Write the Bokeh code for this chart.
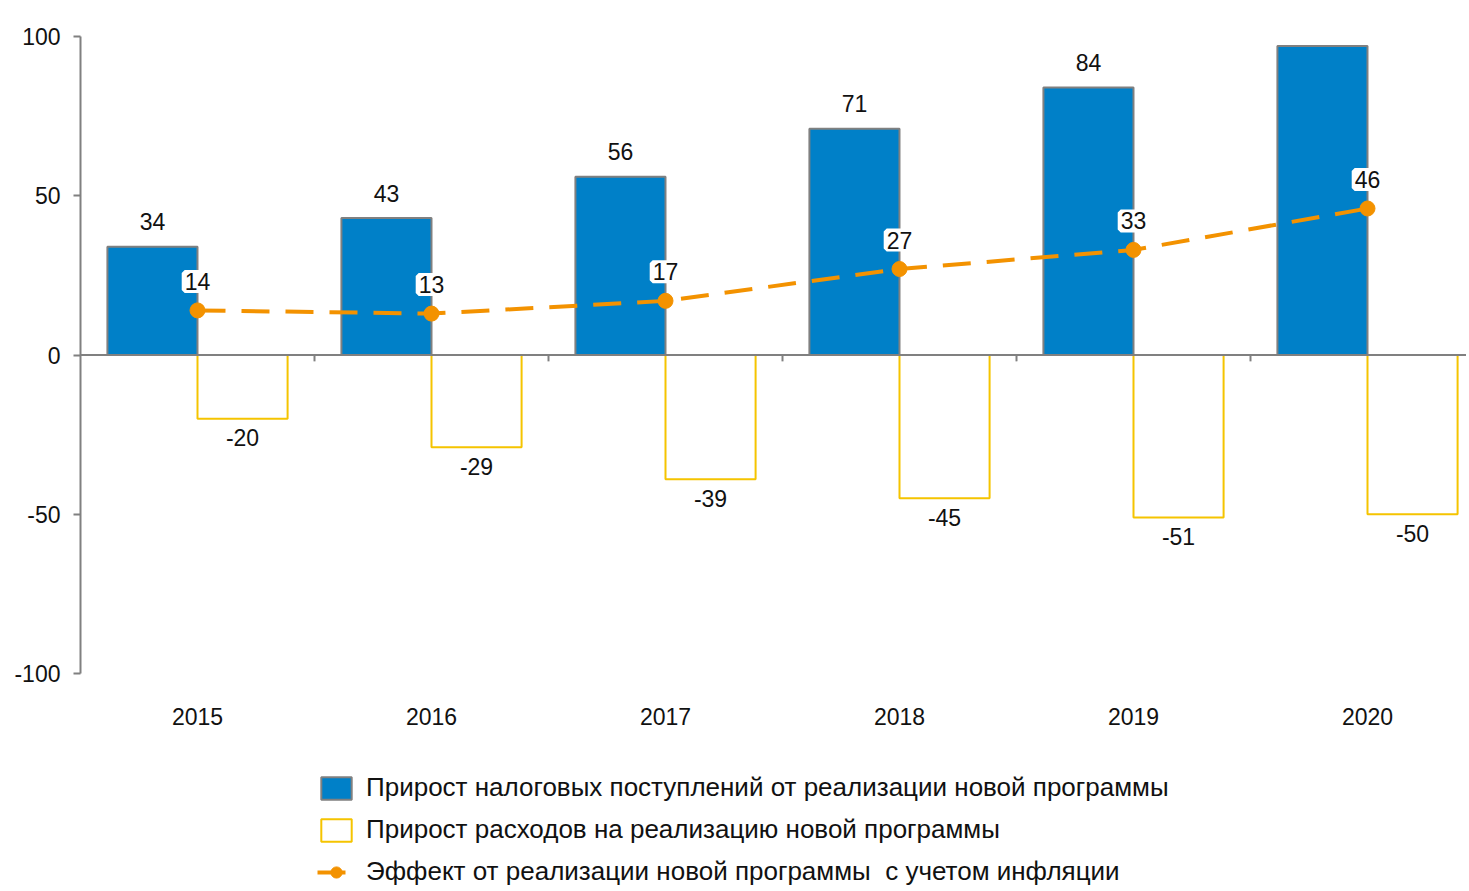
from bokeh.plotting import figure
from bokeh.models import (Range1d, FixedTicker, LabelSet, ColumnDataSource, Span,
                          Legend, LegendItem)
from bokeh.core.properties import value
from bokeh.embed import file_html
from bokeh.resources import INLINE

# ---- data ----
years = ["2015", "2016", "2017", "2018", "2019", "2020"]
tax_growth = [34, 43, 56, 71, 84, 97]
spend_growth = [-20, -29, -39, -45, -51, -50]
effect = [14, 13, 17, 27, 33, 46]
y_ticks = [-100, -50, 0, 50, 100]
series_names = [
    "Прирост налоговых поступлений от реализации новой программы",
    "Прирост расходов на реализацию новой программы",
    "Эффект от реализации новой программы  с учетом инфляции",
]

FONT = "Liberation Sans"
BLUE = "#0080C8"
YELLOW = "#F5C400"
ORANGE = "#F39200"
GRAY = "#808080"
TXT = "#111111"

W, H = 1466, 888
LEFT, TOP = 80, 36
PX_PER_UNIT = 637 / 200.0          # 200 value units span 637 px
CAT_PX = 234                       # width of one category band

n = len(years)
centers = [i + 0.5 for i in range(n)]
bar_w = 0.385
blue_x = [c - bar_w / 2 for c in centers]
yel_x = [c + bar_w / 2 for c in centers]
bounds = [i for i in range(1, n + 1)]

frame_h = H - TOP
y_lo = y_ticks[-1] - frame_h / PX_PER_UNIT
p = figure(width=W, height=H,
           x_range=Range1d(0, (W - LEFT) / CAT_PX),
           y_range=Range1d(y_lo, y_ticks[-1]),
           output_backend="svg", toolbar_location=None,
           min_border_left=LEFT, min_border_right=0, min_border_top=TOP,
           min_border_bottom=0)
p.outline_line_color = None
p.xgrid.visible = False
p.ygrid.visible = False
p.xaxis.visible = False
p.background_fill_color = "white"

src_blue = ColumnDataSource(dict(x=blue_x, top=tax_growth, lbl=[str(v) for v in tax_growth]))
src_yel = ColumnDataSource(dict(x=yel_x, bottom=spend_growth, lbl=[str(v) for v in spend_growth]))
src_line = ColumnDataSource(dict(x=centers, y=effect, lbl=[str(v) for v in effect]))
src_years = ColumnDataSource(dict(x=centers, y=[y_ticks[0]] * n, lbl=years))

r_blue = p.vbar(x="x", top="top", bottom=0, width=bar_w, source=src_blue,
                fill_color=BLUE, line_color=GRAY, line_width=2)
r_yel = p.vbar(x="x", top=0, bottom="bottom", width=bar_w, source=src_yel,
               fill_color="white", line_color=YELLOW, line_width=2)

p.add_layout(Span(location=0, dimension="width", line_color=GRAY, line_width=2))
p.segment(x0=bounds, y0=[0] * n, x1=bounds, y1=[-2] * n, line_color=GRAY, line_width=2)

r_line = p.line(x="x", y="y", source=src_line, line_color=ORANGE, line_width=4,
                line_dash="28 16")
r_pts = p.scatter(x="x", y="y", source=src_line, size=15, fill_color=ORANGE,
                  line_color=ORANGE)

common = dict(text_font=value(FONT), text_font_size=value("23px"), text_color=TXT,
              text_align="center", text_baseline="middle")
p.add_layout(LabelSet(x="x", y="top", text="lbl", source=src_blue, y_offset=25, **common))
p.add_layout(LabelSet(x="x", y="bottom", text="lbl", source=src_yel, y_offset=-19, **common))
p.add_layout(LabelSet(x="x", y="y", text="lbl", source=src_line, y_offset=29,
                      background_fill_color="white", border_line_color="white",
                      border_line_width=6, **common))
# category (year) labels under the value axis
p.add_layout(LabelSet(x="x", y="y", text="lbl", source=src_years, y_offset=-43, **common))

# y axis
yax = p.yaxis[0]
yax.ticker = FixedTicker(ticks=y_ticks)
yax.bounds = (y_ticks[0], y_ticks[-1])
yax.major_label_overrides = {t: str(t) for t in y_ticks}
yax.axis_line_color = GRAY
yax.axis_line_width = 2
yax.major_tick_line_color = GRAY
yax.major_tick_line_width = 2
yax.major_tick_in = 0
yax.major_tick_out = 7
yax.minor_tick_line_color = None
yax.major_label_standoff = 13
yax.major_label_text_font = FONT
yax.major_label_text_font_size = "23px"
yax.major_label_text_color = TXT

legend = Legend(items=[
    LegendItem(label=series_names[0], renderers=[r_blue]),
    LegendItem(label=series_names[1], renderers=[r_yel]),
    LegendItem(label=series_names[2], renderers=[r_line, r_pts]),
], location=(237, 1))
legend.glyph_width = 38
legend.glyph_height = 28
legend.label_height = 28
legend.spacing = 11
legend.padding = 0
legend.margin = 0
legend.label_standoff = 11
legend.border_line_color = None
legend.background_fill_alpha = 0
legend.label_text_font = FONT
legend.label_text_font_size = "26px"
legend.label_text_color = TXT
p.add_layout(legend)

open("out.html", "w").write(file_html(p, INLINE))
